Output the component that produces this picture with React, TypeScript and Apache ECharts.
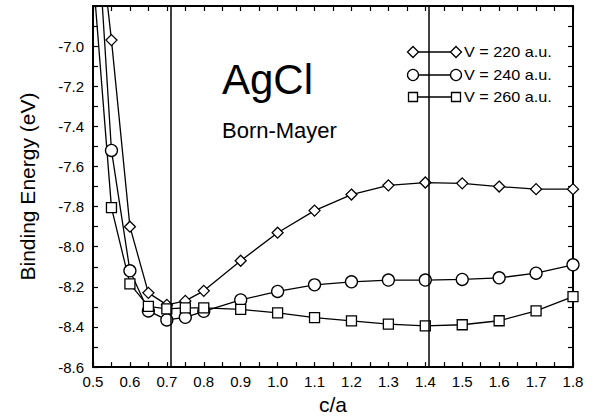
import React, { useEffect, useRef } from "react";
import * as echarts from "echarts";

const xValues = [0.5, 0.55, 0.6, 0.65, 0.7, 0.75, 0.8, 0.9, 1.0, 1.1, 1.2, 1.3, 1.4, 1.5, 1.6, 1.7, 1.8];
const v220 = [-6.15, -6.97, -7.9, -8.23, -8.29, -8.27, -8.22, -8.07, -7.93, -7.82, -7.74, -7.694, -7.68, -7.684, -7.7, -7.713, -7.713];
const v240 = [-6.06, -7.52, -8.12, -8.32, -8.365, -8.352, -8.322, -8.265, -8.223, -8.19, -8.175, -8.166, -8.166, -8.163, -8.155, -8.132, -8.09];
const v260 = [-6.64, -7.805, -8.185, -8.297, -8.31, -8.305, -8.305, -8.312, -8.33, -8.353, -8.37, -8.386, -8.395, -8.389, -8.369, -8.32, -8.249];
const seriesNames = ["V = 220 a.u.", "V = 240 a.u.", "V = 260 a.u."];
const idealRatios = [Math.SQRT1_2, Math.SQRT2];

const FONT = "Liberation Sans, Arial, Helvetica, sans-serif";

export default function App() {
  const ref = useRef<HTMLDivElement>(null);
  useEffect(() => {
    if (!ref.current) return;
    const chart = echarts.init(ref.current, undefined, { renderer: "svg" });
    const pair = (ys: number[]) => xValues.map((x, i) => [x, ys[i]]);
    const lineStyle = { color: "#000", width: 1.3 };
    const itemStyle = { color: "#fff", borderColor: "#000", borderWidth: 1.3 };
    const axisCommon = {
      axisLine: { show: true, onZero: false, lineStyle: { color: "#000", width: 2 } },
      axisTick: { show: true, inside: true, length: 5, lineStyle: { color: "#000", width: 1.2 } },
      minorTick: { show: true, splitNumber: 2, length: 5, lineStyle: { color: "#000", width: 1.2 } },
      splitLine: { show: false },
    };
    const legendRows = [52, 75, 97];
    const lx1 = 413, lx2 = 456;
    const marker = (kind: number, cx: number, cy: number) => {
      const style = { fill: "#fff", stroke: "#000", lineWidth: 1.3 };
      if (kind === 0)
        return { type: "polygon", shape: { points: [[cx, cy - 5.5], [cx + 5.5, cy], [cx, cy + 5.5], [cx - 5.5, cy]] }, style, z: 100 };
      if (kind === 1) return { type: "circle", shape: { cx, cy, r: 5.5 }, style, z: 100 };
      return { type: "rect", shape: { x: cx - 4.5, y: cy - 4.5, width: 9, height: 9 }, style, z: 100 };
    };
    const graphics: any[] = [];
    legendRows.forEach((y, k) => {
      graphics.push({ type: "line", shape: { x1: lx1, y1: y, x2: lx2, y2: y }, style: { stroke: "#000", lineWidth: 1.3 }, z: 99 });
      graphics.push(marker(k, lx1, y));
      graphics.push(marker(k, lx2, y));
      graphics.push({
        type: "text", x: 464, y, scaleX: 1.08,
        style: { text: seriesNames[k], font: `15px ${FONT}`, fill: "#000", textVerticalAlign: "middle" }, z: 100,
      });
    });
    graphics.push({ type: "text", x: 222, y: 79, style: { text: "AgCl", font: `42px ${FONT}`, fill: "#000", textVerticalAlign: "middle" } });
    graphics.push({ type: "text", x: 222, y: 130, style: { text: "Born-Mayer", font: `22px ${FONT}`, fill: "#000", textVerticalAlign: "middle" } });

    chart.setOption({
      animation: false,
      backgroundColor: "#fff",
      grid: { left: 93, right: 21, top: 6, bottom: 50 },
      xAxis: [
        {
          type: "value", min: 0.5, max: 1.8, interval: 0.1,
          name: "c/a", nameLocation: "middle", nameGap: 23,
          nameTextStyle: { fontFamily: FONT, fontSize: 21, color: "#000" },
          axisLabel: { fontFamily: FONT, fontSize: 15, color: "#000", margin: 7, formatter: (v: number) => v.toFixed(1) },
          ...axisCommon,
        },
        {
          type: "value", min: 0.5, max: 1.8, interval: 0.1, position: "top",
          axisLabel: { show: false },
          ...axisCommon,
        },
      ],
      yAxis: [
        {
          type: "value", min: -8.6, max: -6.8, interval: 0.2,
          name: "Binding Energy (eV)", nameLocation: "middle", nameGap: 55,
          nameTextStyle: { fontFamily: FONT, fontSize: 21, color: "#000" },
          axisLabel: {
            fontFamily: FONT, fontSize: 15, color: "#000", margin: 9,
            showMaxLabel: false,
            formatter: (v: number) => (Math.abs(v + 6.8) < 1e-6 ? "" : v.toFixed(1)),
          },
          ...axisCommon,
        },
        {
          type: "value", min: -8.6, max: -6.8, interval: 0.2, position: "right",
          axisLabel: { show: false },
          ...axisCommon,
        },
      ],
      series: [
        {
          type: "line", name: seriesNames[0], data: pair(v220), symbol: "diamond", symbolSize: 11,
          showAllSymbol: true, lineStyle, itemStyle, clip: true, z: 3,
          markLine: {
            silent: true, symbol: "none", label: { show: false },
            lineStyle: { color: "#000", width: 1.5, type: "solid" },
            data: idealRatios.map((x) => ({ xAxis: x })),
          },
        },
        { type: "line", name: seriesNames[1], data: pair(v240), symbol: "circle", symbolSize: 12, showAllSymbol: true, lineStyle, itemStyle, clip: true, z: 3 },
        { type: "line", name: seriesNames[2], data: pair(v260), symbol: "rect", symbolSize: 10, showAllSymbol: true, lineStyle, itemStyle, clip: true, z: 3 },
      ],
      graphic: graphics,
    });
    return () => chart.dispose();
  }, []);
  return <div ref={ref} style={{ width: 594, height: 420, position: "absolute", left: 0, top: 0 }} />;
}
